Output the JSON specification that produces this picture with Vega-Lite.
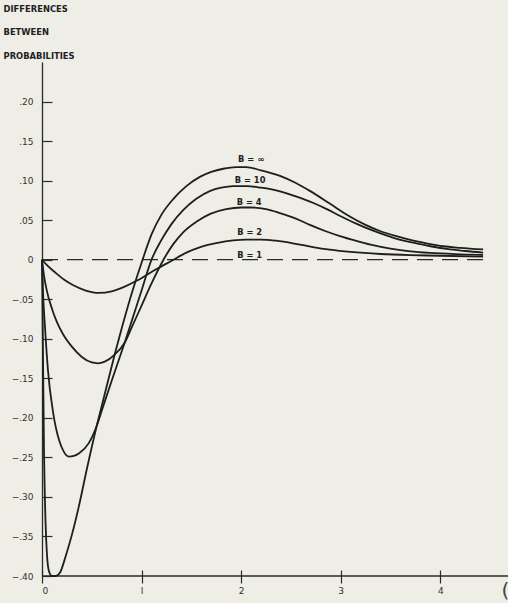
{
  "$schema": "https://vega.github.io/schema/vega-lite/v6.json",
  "width": 466,
  "height": 514,
  "autosize": {"type": "none"},
  "padding": {"left": 42, "top": 62, "right": 0, "bottom": 27},
  "background": "#eeede6",
  "config": {"view": {"stroke": null}, "font": "DejaVu Sans"},
  "datasets": {
    "curves": [
      {"B": "inf", "t": 0, "d": 0}, {"B": "inf", "t": 0.01, "d": -0.12}, {"B": "inf", "t": 0.02, "d": -0.24}, {"B": "inf", "t": 0.035, "d": -0.33}, {"B": "inf", "t": 0.05, "d": -0.373}, {"B": "inf", "t": 0.07, "d": -0.394}, {"B": "inf", "t": 0.1, "d": -0.4}, {"B": "inf", "t": 0.14, "d": -0.4}, {"B": "inf", "t": 0.18, "d": -0.396}, {"B": "inf", "t": 0.24, "d": -0.374}, {"B": "inf", "t": 0.3, "d": -0.348}, {"B": "inf", "t": 0.37, "d": -0.312}, {"B": "inf", "t": 0.45, "d": -0.265}, {"B": "inf", "t": 0.55, "d": -0.21}, {"B": "inf", "t": 0.6, "d": -0.185}, {"B": "inf", "t": 0.73, "d": -0.12}, {"B": "inf", "t": 0.8, "d": -0.087}, {"B": "inf", "t": 0.9, "d": -0.043}, {"B": "inf", "t": 1.01, "d": 0}, {"B": "inf", "t": 1.1, "d": 0.032}, {"B": "inf", "t": 1.2, "d": 0.057}, {"B": "inf", "t": 1.32, "d": 0.077}, {"B": "inf", "t": 1.45, "d": 0.093}, {"B": "inf", "t": 1.59, "d": 0.105}, {"B": "inf", "t": 1.7, "d": 0.111}, {"B": "inf", "t": 1.82, "d": 0.115}, {"B": "inf", "t": 1.95, "d": 0.117}, {"B": "inf", "t": 2.05, "d": 0.117}, {"B": "inf", "t": 2.2, "d": 0.113}, {"B": "inf", "t": 2.39, "d": 0.106}, {"B": "inf", "t": 2.55, "d": 0.097}, {"B": "inf", "t": 2.69, "d": 0.087}, {"B": "inf", "t": 2.89, "d": 0.071}, {"B": "inf", "t": 3.1, "d": 0.054}, {"B": "inf", "t": 3.25, "d": 0.044}, {"B": "inf", "t": 3.4, "d": 0.036}, {"B": "inf", "t": 3.55, "d": 0.03}, {"B": "inf", "t": 3.7, "d": 0.025}, {"B": "inf", "t": 3.85, "d": 0.021}, {"B": "inf", "t": 4.03, "d": 0.017}, {"B": "inf", "t": 4.2, "d": 0.015}, {"B": "inf", "t": 4.43, "d": 0.013},
      {"B": "10", "t": 0, "d": 0}, {"B": "10", "t": 0.01, "d": -0.04}, {"B": "10", "t": 0.03, "d": -0.085}, {"B": "10", "t": 0.06, "d": -0.14}, {"B": "10", "t": 0.11, "d": -0.192}, {"B": "10", "t": 0.176, "d": -0.23}, {"B": "10", "t": 0.22, "d": -0.243}, {"B": "10", "t": 0.27, "d": -0.249}, {"B": "10", "t": 0.32, "d": -0.248}, {"B": "10", "t": 0.37, "d": -0.245}, {"B": "10", "t": 0.47, "d": -0.232}, {"B": "10", "t": 0.55, "d": -0.21}, {"B": "10", "t": 0.6, "d": -0.191}, {"B": "10", "t": 0.7, "d": -0.153}, {"B": "10", "t": 0.83, "d": -0.105}, {"B": "10", "t": 0.9, "d": -0.078}, {"B": "10", "t": 1.0, "d": -0.039}, {"B": "10", "t": 1.1, "d": 0}, {"B": "10", "t": 1.2, "d": 0.025}, {"B": "10", "t": 1.3, "d": 0.045}, {"B": "10", "t": 1.42, "d": 0.063}, {"B": "10", "t": 1.55, "d": 0.077}, {"B": "10", "t": 1.69, "d": 0.087}, {"B": "10", "t": 1.8, "d": 0.091}, {"B": "10", "t": 1.92, "d": 0.093}, {"B": "10", "t": 2.06, "d": 0.093}, {"B": "10", "t": 2.2, "d": 0.091}, {"B": "10", "t": 2.39, "d": 0.0865}, {"B": "10", "t": 2.55, "d": 0.08}, {"B": "10", "t": 2.72, "d": 0.072}, {"B": "10", "t": 2.86, "d": 0.064}, {"B": "10", "t": 3.0, "d": 0.055}, {"B": "10", "t": 3.15, "d": 0.046}, {"B": "10", "t": 3.3, "d": 0.038}, {"B": "10", "t": 3.45, "d": 0.031}, {"B": "10", "t": 3.6, "d": 0.025}, {"B": "10", "t": 3.75, "d": 0.021}, {"B": "10", "t": 3.9, "d": 0.017}, {"B": "10", "t": 4.1, "d": 0.013}, {"B": "10", "t": 4.25, "d": 0.011}, {"B": "10", "t": 4.43, "d": 0.009},
      {"B": "4", "t": 0, "d": 0}, {"B": "4", "t": 0.02, "d": -0.02}, {"B": "4", "t": 0.05, "d": -0.04}, {"B": "4", "t": 0.1, "d": -0.062}, {"B": "4", "t": 0.15, "d": -0.079}, {"B": "4", "t": 0.21, "d": -0.094}, {"B": "4", "t": 0.3, "d": -0.11}, {"B": "4", "t": 0.4, "d": -0.123}, {"B": "4", "t": 0.5, "d": -0.13}, {"B": "4", "t": 0.56, "d": -0.131}, {"B": "4", "t": 0.63, "d": -0.129}, {"B": "4", "t": 0.73, "d": -0.12}, {"B": "4", "t": 0.83, "d": -0.105}, {"B": "4", "t": 0.9, "d": -0.086}, {"B": "4", "t": 1.0, "d": -0.058}, {"B": "4", "t": 1.1, "d": -0.03}, {"B": "4", "t": 1.22, "d": 0}, {"B": "4", "t": 1.32, "d": 0.02}, {"B": "4", "t": 1.42, "d": 0.035}, {"B": "4", "t": 1.55, "d": 0.048}, {"B": "4", "t": 1.69, "d": 0.058}, {"B": "4", "t": 1.85, "d": 0.064}, {"B": "4", "t": 2.0, "d": 0.066}, {"B": "4", "t": 2.1, "d": 0.066}, {"B": "4", "t": 2.25, "d": 0.064}, {"B": "4", "t": 2.39, "d": 0.059}, {"B": "4", "t": 2.55, "d": 0.052}, {"B": "4", "t": 2.69, "d": 0.044}, {"B": "4", "t": 2.85, "d": 0.036}, {"B": "4", "t": 3.0, "d": 0.0295}, {"B": "4", "t": 3.15, "d": 0.024}, {"B": "4", "t": 3.3, "d": 0.019}, {"B": "4", "t": 3.5, "d": 0.014}, {"B": "4", "t": 3.7, "d": 0.0105}, {"B": "4", "t": 3.9, "d": 0.0085}, {"B": "4", "t": 4.15, "d": 0.007}, {"B": "4", "t": 4.43, "d": 0.006},
      {"B": "2", "t": 0, "d": 0}, {"B": "2", "t": 0.05, "d": -0.007}, {"B": "2", "t": 0.14, "d": -0.017}, {"B": "2", "t": 0.22, "d": -0.025}, {"B": "2", "t": 0.31, "d": -0.032}, {"B": "2", "t": 0.44, "d": -0.039}, {"B": "2", "t": 0.57, "d": -0.042}, {"B": "2", "t": 0.7, "d": -0.04}, {"B": "2", "t": 0.83, "d": -0.034}, {"B": "2", "t": 0.96, "d": -0.026}, {"B": "2", "t": 1.12, "d": -0.014}, {"B": "2", "t": 1.25, "d": -0.005}, {"B": "2", "t": 1.32, "d": 0}, {"B": "2", "t": 1.45, "d": 0.009}, {"B": "2", "t": 1.59, "d": 0.016}, {"B": "2", "t": 1.75, "d": 0.021}, {"B": "2", "t": 1.92, "d": 0.0245}, {"B": "2", "t": 2.05, "d": 0.0255}, {"B": "2", "t": 2.2, "d": 0.0255}, {"B": "2", "t": 2.35, "d": 0.024}, {"B": "2", "t": 2.56, "d": 0.0198}, {"B": "2", "t": 2.72, "d": 0.016}, {"B": "2", "t": 2.89, "d": 0.0127}, {"B": "2", "t": 3.1, "d": 0.0098}, {"B": "2", "t": 3.4, "d": 0.0072}, {"B": "2", "t": 3.7, "d": 0.0058}, {"B": "2", "t": 4.0, "d": 0.005}, {"B": "2", "t": 4.43, "d": 0.004}
    ],
    "baseline": [
      {"B": "1", "t": 0, "d": 0}, {"B": "1", "t": 4.45, "d": 0}
    ],
    "labels": [
      {"t": 2.1, "d": 0.126, "text": "B = ∞"},
      {"t": 2.09, "d": 0.099, "text": "B = 10"},
      {"t": 2.08, "d": 0.072, "text": "B = 4"},
      {"t": 2.085, "d": 0.034, "text": "B = 2"},
      {"t": 2.085, "d": 0.005, "text": "B = 1"}
    ],
    "axisline": [{"d": -0.4}]
  },
  "layer": [
    {
      "data": {"name": "axisline"},
      "mark": {"type": "rule", "stroke": "#2a2a2a", "strokeWidth": 1.3},
      "encoding": {
        "y": {"field": "d", "type": "quantitative", "scale": {"domain": [-0.4, 0.25], "nice": false, "zero": false}}
      }
    },
    {
      "data": {"name": "baseline"},
      "mark": {"type": "line", "stroke": "#2a2a2a", "strokeWidth": 1.2, "strokeDash": [16, 9]},
      "encoding": {
        "x": {"field": "t", "type": "quantitative"},
        "y": {"field": "d", "type": "quantitative"}
      }
    },
    {
      "data": {"name": "curves"},
      "mark": {"type": "line", "interpolate": "monotone", "stroke": "#1e1e1e", "strokeWidth": 1.8},
      "encoding": {
        "x": {
          "field": "t", "type": "quantitative",
          "scale": {"domain": [0, 4.68], "nice": false, "zero": false},
          "axis": {
            "values": [0, 1, 2, 3, 4],
            "labelExpr": "datum.value == 1 ? 'I' : format(datum.value, 'd')",
            "domain": false, "grid": false,
            "offset": -6, "tickSize": 13, "tickColor": "#2a2a2a", "tickWidth": 1.2,
            "labelPadding": 3, "labelFontSize": 9, "labelColor": "#333333",
            "labelBaseline": "top",
            "title": "(", "titleFontSize": 20, "titleFontWeight": "normal", "titleColor": "#444444",
            "titleAnchor": null, "titleX": 459, "titleY": 10, "titleAlign": "left", "titleBaseline": "top"
          }
        },
        "y": {
          "field": "d", "type": "quantitative",
          "scale": {"domain": [-0.4, 0.25], "nice": false, "zero": false},
          "axis": {
            "values": [-0.4, -0.375, -0.35, -0.325, -0.3, -0.275, -0.25, -0.225, -0.2, -0.175, -0.15, -0.125, -0.1, -0.075, -0.05, -0.025, 0, 0.025, 0.05, 0.075, 0.1, 0.125, 0.15, 0.175, 0.2],
            "labelExpr": "abs(round(datum.value*1000)) % 50 != 0 ? '' : datum.value == 0 ? '0' : (datum.value < 0 ? '−' : '') + replace(format(abs(datum.value), '.2f'), '0.', '.')",
            "grid": false, "domainColor": "#2a2a2a", "domainWidth": 1.3,
            "tickSize": -10, "tickColor": "#2a2a2a", "tickWidth": 1.2,
            "labelPadding": 19, "labelFontSize": 9, "labelColor": "#333333",
            "title": ["DIFFERENCES", "BETWEEN", "PROBABILITIES"],
            "titleAngle": 0, "titleFontSize": 8.4, "titleFontWeight": "bold", "titleColor": "#222222",
            "titleLineHeight": 23.5, "titleAnchor": null, "titleAlign": "left", "titleBaseline": "top",
            "titleX": -39, "titleY": -58
          }
        },
        "detail": {"field": "B", "type": "nominal"}
      }
    },
    {
      "data": {"name": "labels"},
      "mark": {"type": "text", "fontSize": 8.3, "fontWeight": "bold", "color": "#222222", "baseline": "middle", "align": "center"},
      "encoding": {
        "x": {"field": "t", "type": "quantitative"},
        "y": {"field": "d", "type": "quantitative"},
        "text": {"field": "text"}
      }
    }
  ]
}
